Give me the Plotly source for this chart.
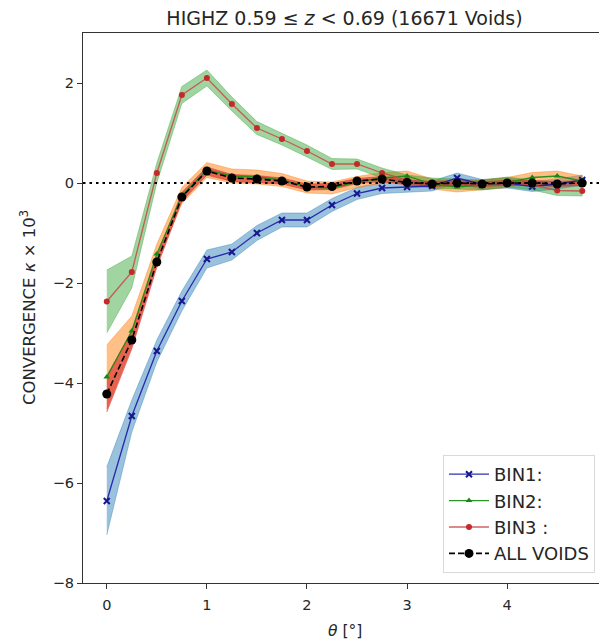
import plotly.graph_objects as go

# Angular separation from void centre, degrees
theta = [0.0, 0.25, 0.5, 0.75, 1.0, 1.25, 1.5, 1.75, 2.0, 2.25,
         2.5, 2.75, 3.0, 3.25, 3.5, 3.75, 4.0, 4.25, 4.5, 4.75]

# Convergence profiles (kappa x 10^3) and 1-sigma errors per void-size bin
bin1 = [-6.36, -4.66, -3.36, -2.36, -1.52, -1.38, -1.00, -0.74, -0.74, -0.44,
        -0.21, -0.10, -0.08, -0.06, 0.10, -0.03, 0.00, -0.07, -0.02, 0.06]
bin1_err = [0.68, 0.32, 0.22, 0.20, 0.18, 0.16, 0.15, 0.14, 0.14, 0.13,
            0.12, 0.11, 0.11, 0.10, 0.10, 0.10, 0.10, 0.10, 0.10, 0.10]

bin2 = [-3.88, -2.96, -1.42, -0.25, 0.26, 0.14, 0.12, 0.06, -0.08, -0.10,
        0.02, 0.10, 0.14, -0.02, -0.08, -0.03, 0.01, 0.11, 0.14, 0.04]
bin2_err = [0.64, 0.30, 0.20, 0.16, 0.15, 0.14, 0.14, 0.13, 0.12, 0.12,
            0.11, 0.11, 0.10, 0.10, 0.10, 0.10, 0.10, 0.10, 0.10, 0.10]

bin3 = [-2.37, -1.78, 0.20, 1.76, 2.10, 1.58, 1.10, 0.88, 0.64, 0.38,
        0.38, 0.20, 0.06, 0.00, -0.02, -0.04, 0.02, -0.04, -0.15, -0.16]
bin3_err = [0.63, 0.32, 0.20, 0.17, 0.16, 0.14, 0.13, 0.12, 0.12, 0.11,
            0.10, 0.10, 0.10, 0.10, 0.10, 0.10, 0.10, 0.10, 0.10, 0.10]

all_voids = [-4.22, -3.14, -1.58, -0.28, 0.24, 0.10, 0.08, 0.04, -0.08, -0.07,
             0.04, 0.08, 0.01, -0.02, 0.00, -0.02, 0.00, 0.00, -0.02, 0.00]
all_err = [0.36, 0.18, 0.11, 0.09, 0.08, 0.07, 0.07, 0.06, 0.06, 0.06,
           0.05, 0.05, 0.05, 0.05, 0.05, 0.05, 0.05, 0.05, 0.05, 0.05]

y_ticks = [-8, -6, -4, -2, 0, 2]
x_ticks = [0, 1, 2, 3, 4]

FONT = "DejaVu Sans"
TXT = "#262626"

fig = go.Figure()

# shaded 1-sigma bands
bands = [
    (bin1, bin1_err, "rgba(31,119,180,0.45)"),
    (bin2, bin2_err, "rgba(255,127,14,0.50)"),
    (bin3, bin3_err, "rgba(44,160,44,0.45)"),
    (all_voids, all_err, "rgba(214,39,40,0.60)"),
]
for vals, errs, col in bands:
    upper = [v + e for v, e in zip(vals, errs)]
    lower = [v - e for v, e in zip(vals, errs)]
    fig.add_trace(go.Scatter(
        x=theta + theta[::-1], y=upper + lower[::-1],
        fill="toself", fillcolor=col, mode="lines",
        line=dict(width=0.8, color=col), showlegend=False, hoverinfo="skip"))

fig.add_trace(go.Scatter(
    x=theta, y=bin1, name="BIN1:", mode="lines+markers",
    line=dict(color="rgba(25,25,170,0.9)", width=1.3),
    marker=dict(symbol="x-thin", size=6, color="#16168f",
                line=dict(width=2, color="#16168f")),
    legendgroup="g1"))
fig.add_trace(go.Scatter(
    x=theta, y=bin2, name="BIN2:", mode="lines+markers",
    line=dict(color="rgba(20,140,20,0.9)", width=1.3),
    marker=dict(symbol="triangle-up", size=6, color="#138a13"),
    legendgroup="g2"))
fig.add_trace(go.Scatter(
    x=theta, y=bin3, name="BIN3 :", mode="lines+markers",
    line=dict(color="rgba(200,70,70,0.85)", width=1.3),
    marker=dict(symbol="circle", size=6, color="#c42a2a"),
    legendgroup="g3"))
fig.add_trace(go.Scatter(
    x=theta, y=all_voids, name="ALL VOIDS", mode="lines+markers",
    line=dict(color="black", width=1.6, dash="6px,3px"),
    marker=dict(symbol="circle", size=9, color="black"),
    legendgroup="g4"))

fig.add_hline(y=0, line=dict(color="black", width=2.2, dash="2.5px,4px"),
              layer="above")

axis_common = dict(
    showgrid=False, zeroline=False, showline=True, linecolor="#333333",
    linewidth=1, ticks="outside", ticklen=5, tickwidth=1, tickcolor="#333333",
    tickfont=dict(family=FONT, size=14.5, color=TXT),
)
fig.update_xaxes(range=[-0.2375, 4.9175], tickvals=x_ticks, mirror=True,
                 ticklabelstandoff=4, **axis_common)
fig.update_yaxes(range=[-8, 3], tickvals=y_ticks, **axis_common)

fig.update_layout(
    width=599, height=641,
    margin=dict(l=83, r=0, t=33, b=58),
    plot_bgcolor="white", paper_bgcolor="white",
    font=dict(family=FONT, color=TXT),
    title=dict(text="HIGHZ 0.59 ≤ <i>z</i> &lt; 0.69 (16671 Voids)",
               xref="container", yref="container",
               x=344.5 / 599, y=1 - 18 / 641, xanchor="center", yanchor="middle",
               font=dict(family=FONT, size=19, color=TXT)),
    legend=dict(
        x=(595 - 83) / 516, y=(583 - 573) / 550, xanchor="right", yanchor="bottom",
        bgcolor="white", bordercolor="#d9d9d9", borderwidth=1,
        font=dict(family=FONT, size=18, color=TXT), itemwidth=40,
        tracegroupgap=0, traceorder="grouped"),
    annotations=[
        dict(text="CONVERGENCE <i>κ</i> × 10<sup>3</sup>", textangle=-90,
             xref="paper", yref="paper", x=0, y=0.5, xshift=-55,
             xanchor="center", yanchor="middle", showarrow=False,
             font=dict(family=FONT, size=16.5, color=TXT)),
        dict(text="<i>θ</i> [°]", xref="paper", yref="paper",
             x=(344.5 - 83) / 516, y=0, yshift=-48,
             xanchor="center", yanchor="middle", showarrow=False,
             font=dict(family=FONT, size=15.5, color=TXT)),
    ],
)

fig.write_html("out.html")
